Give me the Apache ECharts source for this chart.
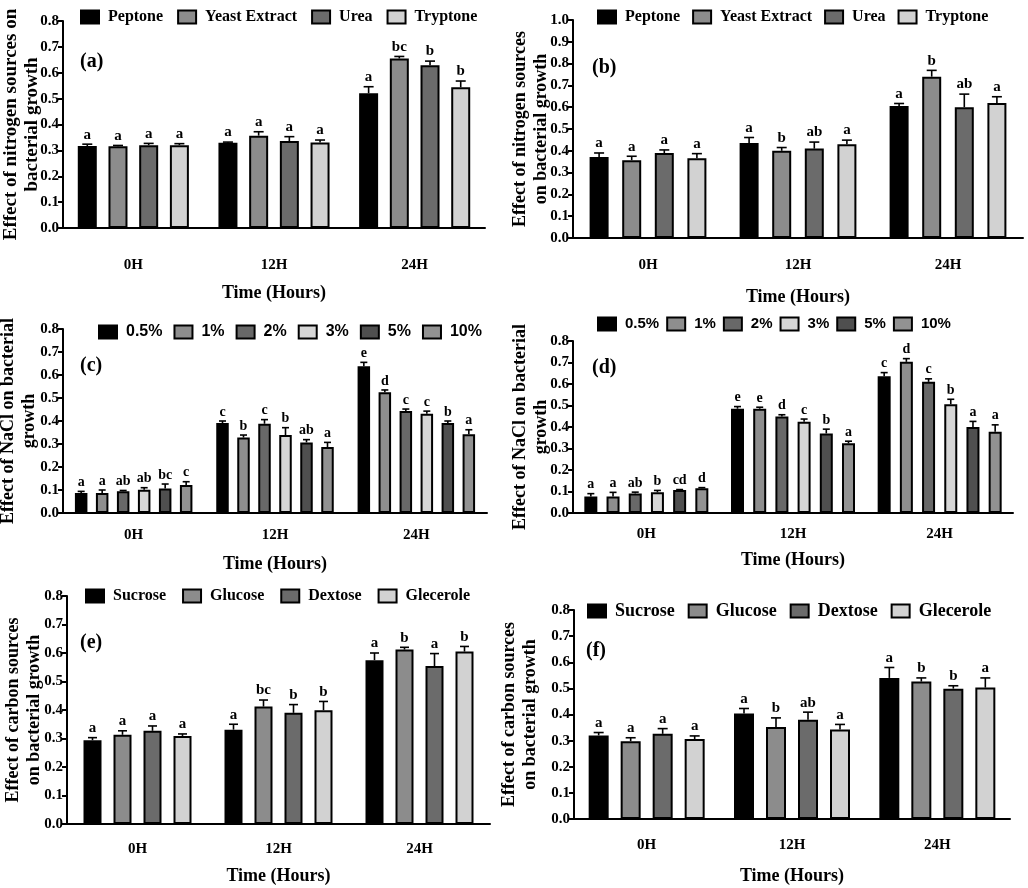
<!DOCTYPE html>
<html><head><meta charset="utf-8">
<script src="https://cdn.jsdelivr.net/npm/echarts@6/dist/echarts.min.js"></script>
<style>html,body{margin:0;padding:0;background:#fff}#c{width:1028px;height:888px}</style>
</head><body><div id="c"></div>
<script>
// ---------------- DATA ----------------
const categories = ['0H', '12H', '24H'];

// (a) nitrogen sources
const aNames = ['Peptone', 'Yeast Extract', 'Urea', 'Tryptone'];
const aMeans = [[0.317, 0.329, 0.521], [0.316, 0.357, 0.655], [0.320, 0.336, 0.629], [0.320, 0.330, 0.544]];
const aErrs = [[0.007, 0.003, 0.025], [0.003, 0.015, 0.008], [0.007, 0.017, 0.016], [0.006, 0.010, 0.024]];
const aLetters = [['a', 'a', 'a'], ['a', 'a', 'bc'], ['a', 'a', 'b'], ['a', 'a', 'b']];

// (b) nitrogen sources
const bNames = ['Peptone', 'Yeast Extract', 'Urea', 'Tryptone'];
const bMeans = [[0.372, 0.436, 0.605], [0.357, 0.400, 0.740], [0.390, 0.410, 0.600], [0.366, 0.430, 0.619]];
const bErrs = [[0.018, 0.025, 0.012], [0.018, 0.015, 0.029], [0.014, 0.030, 0.060], [0.021, 0.019, 0.029]];
const bLetters = [['a', 'a', 'a'], ['a', 'b', 'b'], ['a', 'ab', 'ab'], ['a', 'a', 'a']];

// (c) NaCl
const cNames = ['0.5%', '1%', '2%', '3%', '5%', '10%'];
const cMeans = [[0.087, 0.391, 0.638], [0.087, 0.328, 0.525], [0.095, 0.388, 0.443], [0.101, 0.339, 0.432], [0.106, 0.307, 0.391], [0.122, 0.287, 0.342]];
const cErrs = [[0.007, 0.009, 0.017], [0.013, 0.011, 0.010], [0.003, 0.018, 0.009], [0.009, 0.032, 0.011], [0.020, 0.012, 0.009], [0.014, 0.020, 0.020]];
const cLetters = [['a', 'c', 'e'], ['a', 'b', 'd'], ['ab', 'c', 'c'], ['ab', 'b', 'c'], ['bc', 'ab', 'b'], ['c', 'a', 'a']];

// (d) NaCl
const dNames = ['0.5%', '1%', '2%', '3%', '5%', '10%'];
const dMeans = [[0.077, 0.485, 0.636], [0.077, 0.485, 0.703], [0.091, 0.449, 0.610], [0.096, 0.424, 0.506], [0.107, 0.370, 0.400], [0.115, 0.324, 0.378]];
const dErrs = [[0.013, 0.010, 0.017], [0.019, 0.007, 0.015], [0.006, 0.008, 0.014], [0.009, 0.013, 0.023], [0.002, 0.020, 0.026], [0.003, 0.010, 0.032]];
const dLetters = [['a', 'e', 'c'], ['a', 'e', 'd'], ['ab', 'd', 'c'], ['b', 'c', 'b'], ['cd', 'b', 'a'], ['d', 'a', 'a']];

// (e) carbon sources
const eNames = ['Sucrose', 'Glucose', 'Dextose', 'Glecerole'];
const eMeans = [[0.294, 0.331, 0.575], [0.313, 0.412, 0.612], [0.327, 0.390, 0.554], [0.309, 0.399, 0.605]];
const eErrs = [[0.009, 0.019, 0.025], [0.014, 0.023, 0.008], [0.017, 0.029, 0.044], [0.007, 0.031, 0.018]];
const eLetters = [['a', 'a', 'a'], ['a', 'bc', 'b'], ['a', 'b', 'a'], ['a', 'b', 'b']];

// (f) carbon sources
const fNames = ['Sucrose', 'Glucose', 'Dextose', 'Glecerole'];
const fMeans = [[0.320, 0.404, 0.540], [0.298, 0.352, 0.526], [0.326, 0.380, 0.499], [0.306, 0.343, 0.503]];
const fErrs = [[0.011, 0.019, 0.040], [0.013, 0.035, 0.014], [0.020, 0.029, 0.011], [0.012, 0.019, 0.037]];
const fLetters = [['a', 'a', 'a'], ['a', 'b', 'b'], ['a', 'ab', 'b'], ['a', 'a', 'a']];

// ---------------- STYLE / LAYOUT ----------------
const SERIF = '"Liberation Serif","Times New Roman",serif';
const SANS = '"Liberation Sans",Arial,sans-serif';
const fourColors = ['#000000', '#8c8c8c', '#6b6b6b', '#d2d2d2'];
const sixColors = ['#000000', '#8e8e8e', '#686868', '#d6d6d6', '#4f4f4f', '#929292'];

const panels = [
  { tag: '(a)', names: aNames, means: aMeans, errs: aErrs, letters: aLetters, colors: fourColors, yMax: 0.8,
    yName: 'Effect of nitrogen sources on\nbacterial growth', yNameSize: 19,
    grid: { left: 63, top: 21, width: 422, height: 207 }, barW: 19, step: 30.7, capW: 10, letterSize: 15,
    legend: { left: 80, top: 8, gap: 14, font: SERIF, size: 16 }, xLabelMargin: 30, xNameGap: 56, yNameGap: 20, tagPos: [80, 62] },
  { tag: '(b)', names: bNames, means: bMeans, errs: bErrs, letters: bLetters, colors: fourColors, yMax: 1.0,
    yName: 'Effect of nitrogen sources\non bacterial growth', yNameSize: 18,
    grid: { left: 573, top: 20, width: 450, height: 218 }, barW: 19, step: 32.6, capW: 10, letterSize: 15,
    legend: { left: 597, top: 8, gap: 12, font: SERIF, size: 16 }, xLabelMargin: 20, xNameGap: 50, yNameGap: 21, tagPos: [592, 68] },
  { tag: '(c)', names: cNames, means: cMeans, errs: cErrs, letters: cLetters, colors: sixColors, yMax: 0.8,
    yName: 'Effect of NaCl on bacterial\ngrowth', yNameSize: 18,
    grid: { left: 63, top: 329, width: 424, height: 184 }, barW: 12.5, step: 21, capW: 7, letterSize: 14,
    legend: { left: 98, top: 323, gap: 11, font: SANS, size: 16 }, xLabelMargin: 15, xNameGap: 42, yNameGap: 23, tagPos: [80, 366] },
  { tag: '(d)', names: dNames, means: dMeans, errs: dErrs, letters: dLetters, colors: sixColors, yMax: 0.8,
    yName: 'Effect of NaCl on bacterial\ngrowth', yNameSize: 18,
    grid: { left: 573, top: 341, width: 440, height: 172 }, barW: 13, step: 22.2, capW: 7, letterSize: 14,
    legend: { left: 597, top: 315, gap: 7, font: SANS, size: 15 }, xLabelMargin: 14, xNameGap: 38, yNameGap: 21, tagPos: [592, 368] },
  { tag: '(e)', names: eNames, means: eMeans, errs: eErrs, letters: eLetters, colors: fourColors, yMax: 0.8,
    yName: 'Effect of carbon sources\non bacterial growth', yNameSize: 18,
    grid: { left: 67, top: 596, width: 423, height: 228 }, barW: 18, step: 30, capW: 9, letterSize: 15,
    legend: { left: 85, top: 587, gap: 16, font: SERIF, size: 16 }, xLabelMargin: 18, xNameGap: 43, yNameGap: 22, tagPos: [80, 643] },
  { tag: '(f)', names: fNames, means: fMeans, errs: fErrs, letters: fLetters, colors: fourColors, yMax: 0.8,
    yName: 'Effect of carbon sources\non bacterial growth', yNameSize: 18,
    grid: { left: 574, top: 610, width: 436, height: 209 }, barW: 20, step: 32, capW: 10, letterSize: 15,
    legend: { left: 587, top: 602, gap: 13, font: SERIF, size: 18 }, xLabelMargin: 19, xNameGap: 48, yNameGap: 33, tagPos: [586, 651] }
];

const bold = (size, fam) => ({ color: '#000', fontWeight: 'bold', fontSize: size, fontFamily: fam || SERIF });

const option = {
  animation: false,
  backgroundColor: '#fff',
  grid: [], xAxis: [], yAxis: [], legend: [], series: [], graphic: []
};

panels.forEach((p, i) => {
  option.grid.push(Object.assign({ outerBoundsMode: 'none', containLabel: false }, p.grid));
  option.xAxis.push({
    gridIndex: i, type: 'category', data: categories,
    axisLine: { lineStyle: { color: '#000', width: 2 } },
    axisTick: { alignWithLabel: true, length: 8, lineStyle: { color: '#000', width: 2 } },
    axisLabel: Object.assign({ margin: p.xLabelMargin }, bold(15)),
    splitLine: { show: false },
    name: 'Time (Hours)', nameLocation: 'middle', nameGap: p.xNameGap, nameMoveOverlap: false,
    nameTextStyle: bold(18)
  });
  option.yAxis.push({
    gridIndex: i, type: 'value', min: 0, max: p.yMax, interval: 0.1,
    axisLine: { show: true, lineStyle: { color: '#000', width: 2 } },
    axisTick: { show: true, length: 5, lineStyle: { color: '#000', width: 2 } },
    axisLabel: Object.assign({ margin: 4, formatter: v => v.toFixed(1) }, bold(15)),
    splitLine: { show: false },
    name: p.yName, nameLocation: 'middle', nameGap: p.yNameGap, nameMoveOverlap: false,
    nameTextStyle: Object.assign({ lineHeight: 21 }, bold(p.yNameSize))
  });
  option.legend.push({
    data: p.names.slice(), left: p.legend.left, top: p.legend.top, padding: 0, icon: 'rect',
    itemWidth: 18, itemHeight: 13, itemGap: p.legend.gap, selectedMode: false,
    textStyle: Object.assign({ padding: [0, 0, 0, 4], lineHeight: 18 }, bold(p.legend.size, p.legend.font))
  });
  const n = p.names.length;
  p.names.forEach((name, j) => {
    option.series.push({
      type: 'bar', name: name, xAxisIndex: i, yAxisIndex: i,
      data: p.means[j], barWidth: p.barW, barGap: ((p.step - p.barW) / p.barW * 100) + '%',
      itemStyle: { color: p.colors[j], borderColor: '#000', borderWidth: 2 },
      emphasis: { disabled: true }
    });
    option.series.push({
      type: 'custom', name: 'err-' + i + '-' + j, xAxisIndex: i, yAxisIndex: i, z: 5, silent: true,
      data: p.means[j].map((m, k) => [k, m, p.errs[j][k]]),
      renderItem: function (params, api) {
        const k = api.value(0), m = api.value(1), e = api.value(2);
        const base = api.coord([k, m]);
        const top = api.coord([k, m + e]);
        const x = base[0] + (j - (n - 1) / 2) * p.step;
        const ls = { stroke: '#000', lineWidth: 1.6 };
        return {
          type: 'group',
          children: [
            { type: 'line', shape: { x1: x, y1: base[1], x2: x, y2: top[1] }, style: ls },
            { type: 'line', shape: { x1: x - p.capW / 2, y1: top[1], x2: x + p.capW / 2, y2: top[1] }, style: ls },
            { type: 'text', style: { text: p.letters[j][params.dataIndex], x: x, y: top[1] - 2,
              align: 'center', verticalAlign: 'bottom', textAlign: 'center', textVerticalAlign: 'bottom',
              fill: '#000', fontSize: p.letterSize, fontWeight: 'bold', fontFamily: SERIF } }
          ]
        };
      }
    });
  });
  option.graphic.push({
    type: 'text', left: p.tagPos[0], top: p.tagPos[1] - 10,
    style: { text: p.tag, fill: '#000', fontSize: 20, fontWeight: 'bold', fontFamily: SERIF }
  });
});

const chart = echarts.init(document.getElementById('c'), null, { renderer: 'canvas' });
chart.setOption(option);
</script>
</body></html>
